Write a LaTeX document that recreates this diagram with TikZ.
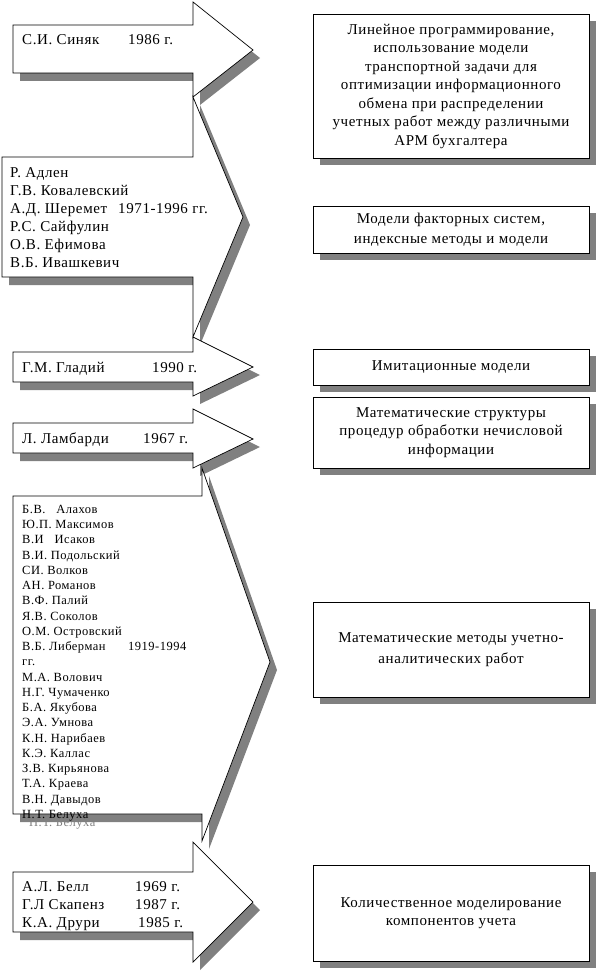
\documentclass[tikz,border=0pt]{standalone}
\usepackage{fontspec}
\setmainfont{Liberation Serif}[LetterSpace=4]
\usetikzlibrary{shadows}
\definecolor{shadowgray}{HTML}{808080}

\begin{document}
\begin{tikzpicture}[x=1pt, y=-1pt,
    arrowbody/.style={draw=black, fill=white, line width=0.7pt, line join=miter,
                      drop shadow={shadow xshift=7pt, shadow yshift=-8pt, fill=shadowgray, opacity=1}},
    topic/.style={draw=black, fill=white, line width=0.7pt, minimum width=276pt,
                  align=center, inner sep=2pt, font=\fontsize{15}{18.5}\selectfont,
                  drop shadow={shadow xshift=7pt, shadow yshift=-7pt, fill=shadowgray, opacity=1}},
    who/.style={anchor=base west, inner sep=0pt, font=\fontsize{15}{18}\selectfont},
    names/.style={anchor=north west, inner sep=0pt, align=left, font=\fontsize{15}{18}\selectfont},
    smallnames/.style={names, font=\fontsize{12.5}{15.25}\selectfont}
  ]
    \useasboundingbox (0,0) rectangle (598,971);

    % Arrow 1: Siniak
    \draw[arrowbody] (13,25) -- (193,25) -- (193,2) -- (253,50) -- (193,97)
      -- (193,73) -- (13,73) -- cycle;
    \node[who] (siniak) at (22,45) {С.И. Синяк};
    \node[who] (siniakyear) at (128,45) {1986 г.};

    % Arrow 2: factor analysis group
    \draw[arrowbody] (2,157) -- (193,157) -- (193,97) -- (243,217) -- (193,337)
      -- (193,277) -- (2,277) -- cycle;
    \node[names] (adlen) at (10,167.2) {Р. Адлен\\
      Г.В. Ковалевский\\
      \makebox[108pt][l]{А.Д. Шеремет}1971-1996 гг.\\
      Р.С. Сайфулин\\
      О.В. Ефимова\\
      В.Б. Ивашкевич};

    % Arrow 3: Gladiy
    \draw[arrowbody] (13,352) -- (193,352) -- (193,337) -- (253,367) -- (193,396)
      -- (193,382) -- (13,382) -- cycle;
    \node[who] (gladiy) at (22,372) {Г.М. Гладий};
    \node[who] (gladiyyear) at (152,372) {1990 г.};

    % Arrow 4: Lambardi
    \draw[arrowbody] (13,423) -- (193,423) -- (193,409) -- (253,439) -- (193,468)
      -- (193,453) -- (13,453) -- cycle;
    \node[who] (lambardi) at (22,443) {Л. Ламбарди};
    \node[who] (lambardiyear) at (143,443) {1967 г.};

    % Arrow 5: long list
    \draw[arrowbody] (13,496) -- (202,496) -- (202,468) -- (270,662) -- (202,841)
      -- (202,814) -- (13,814) -- cycle;
    \node[who, font=\fontsize{12.5}{15.25}\selectfont, text=shadowgray] (ghost) at (29,826) {Н.Т. Белуха};
    \node[smallnames] (alakhov) at (22,504.8) {Б.В.\ \ \ Алахов\\
      Ю.П. Максимов\\
      В.И\ \ \ Исаков\\
      В.И. Подольский\\
      СИ. Волков\\
      АН. Романов\\
      В.Ф. Палий\\
      Я.В. Соколов\\
      О.М. Островский\\
      \makebox[106pt][l]{В.Б. Либерман}1919-1994\\
      гг.\\
      М.А. Волович\\
      Н.Г. Чумаченко\\
      Б.А. Якубова\\
      Э.А. Умнова\\
      К.Н. Нарибаев\\
      К.Э. Каллас\\
      З.В. Кирьянова\\
      Т.А. Краева\\
      В.Н. Давыдов\\
      Н.Т. Белуха};

    % Arrow 6: Bell, Skapenz, Drury
    \draw[arrowbody] (13,872) -- (193,872) -- (193,842) -- (253,902) -- (193,962)
      -- (193,932) -- (13,932) -- cycle;
    \node[names] (bell) at (22,881.2) {\makebox[113pt][l]{А.Л. Белл}1969 г.\\
      \makebox[113pt][l]{Г.Л Скапенз}1987 г.\\
      \makebox[116pt][l]{К.А. Друри}1985 г.};

    % Right column: methods
    \node[topic, minimum height=144pt] (linprog) at (451,86) {Линейное программирование,\\
      использование модели\\
      транспортной задачи для\\
      оптимизации информационного\\
      обмена при распределении\\
      учетных работ между различными\\
      АРМ бухгалтера};
    \node[topic, minimum height=47pt] (factor) at (451,229.5) {Модели факторных систем,\\[2pt]
      индексные методы и модели};
    \node[topic, minimum height=36pt] (imitation) at (451,367) {Имитационные модели};
    \node[topic, minimum height=71pt] (structures) at (451,432.5) {Математические структуры\\
      процедур обработки нечисловой\\
      информации};
    \node[topic, minimum height=95pt] (mathmeth) at (451,649.5) {Математические методы учетно-\\[2pt]
      аналитических работ};
    \node[topic, minimum height=96pt] (quantity) at (451,913) {Количественное моделирование\\
      компонентов учета};
  \end{tikzpicture}
\end{document}
